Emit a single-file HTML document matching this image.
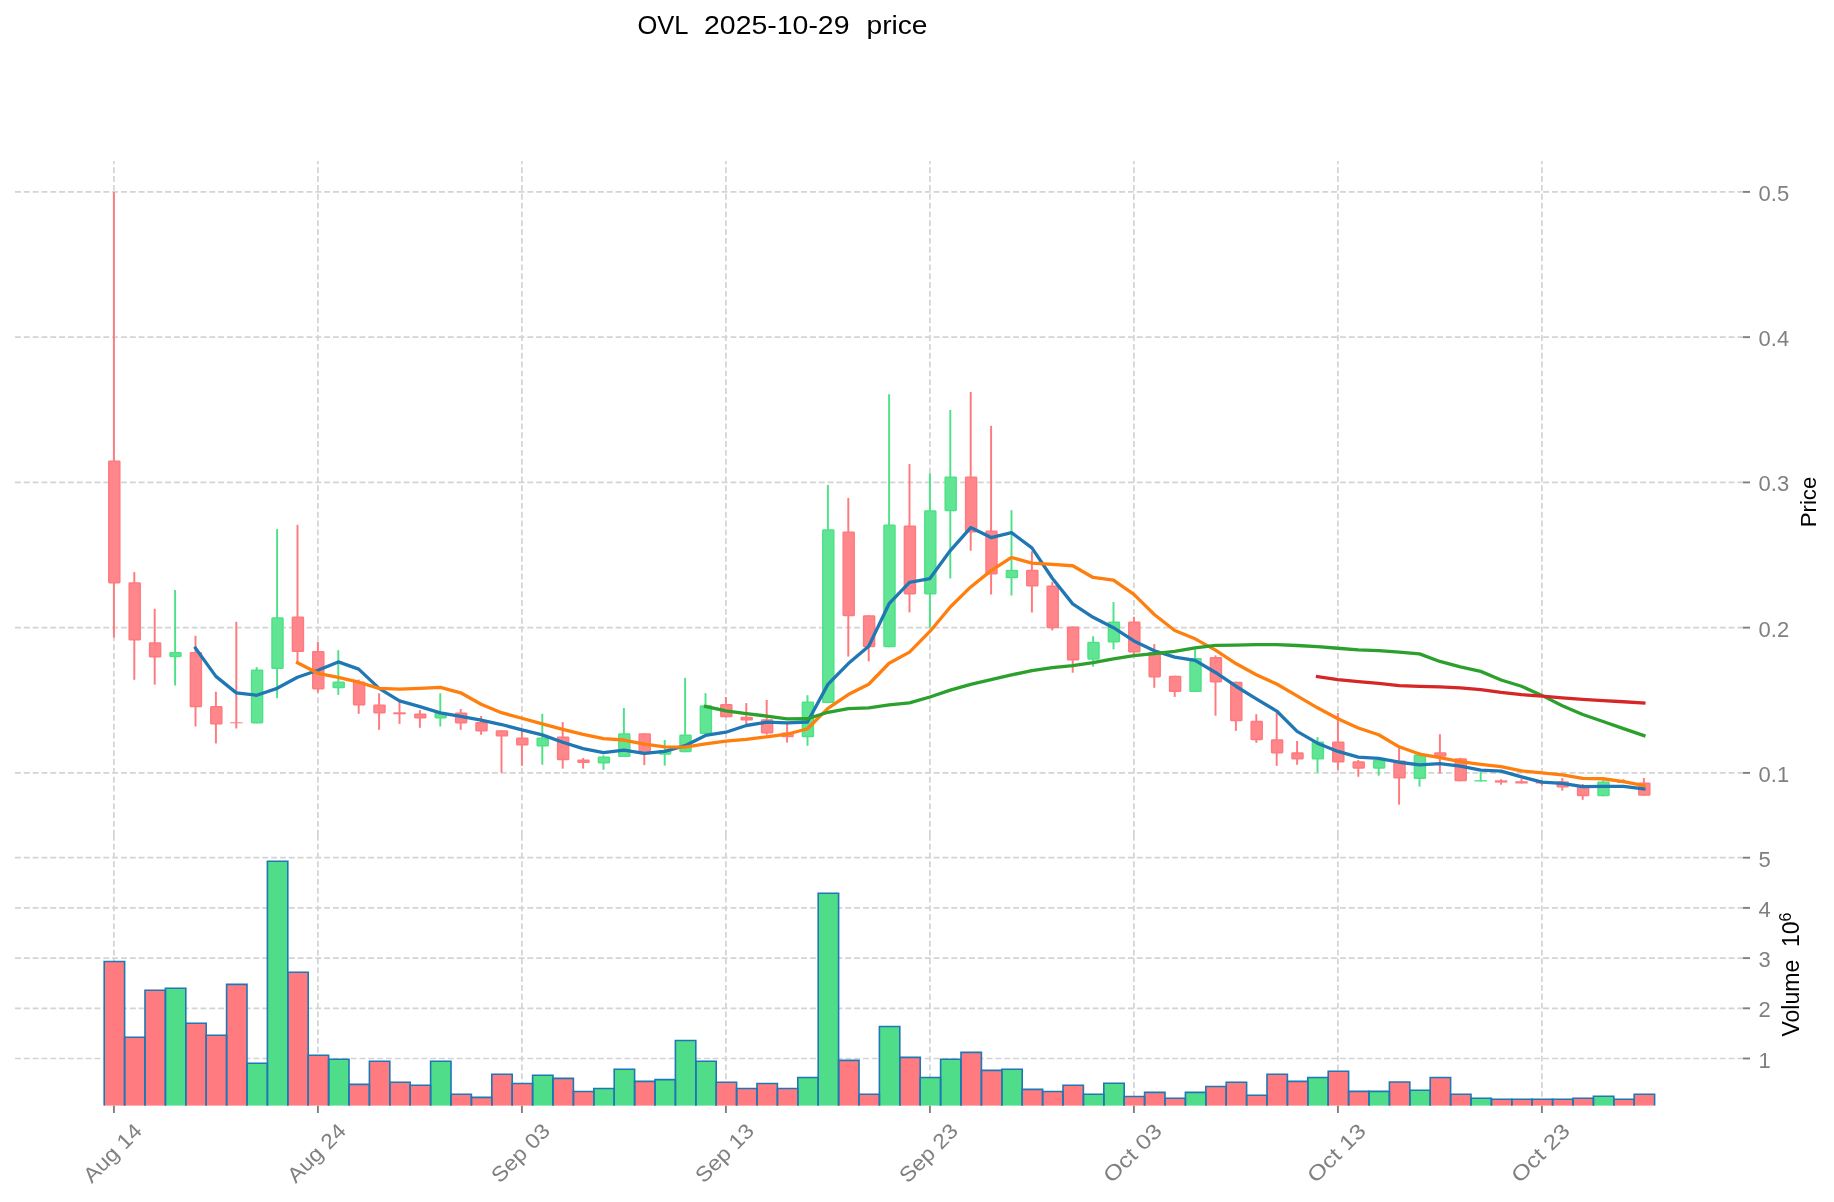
<!DOCTYPE html><html><head><meta charset="utf-8"><style>html,body{margin:0;padding:0;background:#fff;}svg{display:block;will-change:transform;}</style></head><body><svg width="1834" height="1202" viewBox="0 0 1834 1202">
<rect width="1834" height="1202" fill="#fff"/>
<g stroke="#d4d4d4" stroke-width="1.7" stroke-dasharray="5.9 2.933" fill="none"><line x1="15" y1="772.90" x2="1743" y2="772.90"/><line x1="15" y1="627.65" x2="1743" y2="627.65"/><line x1="15" y1="482.40" x2="1743" y2="482.40"/><line x1="15" y1="337.15" x2="1743" y2="337.15"/><line x1="15" y1="191.90" x2="1743" y2="191.90"/><line x1="15" y1="857.70" x2="1743" y2="857.70"/><line x1="15" y1="907.90" x2="1743" y2="907.90"/><line x1="15" y1="958.10" x2="1743" y2="958.10"/><line x1="15" y1="1008.30" x2="1743" y2="1008.30"/><line x1="15" y1="1058.50" x2="1743" y2="1058.50"/><line x1="113.90" y1="161" x2="113.90" y2="835" stroke-dashoffset="2.55"/><line x1="113.90" y1="834.8" x2="113.90" y2="1105.6"/><line x1="317.90" y1="161" x2="317.90" y2="835" stroke-dashoffset="2.55"/><line x1="317.90" y1="834.8" x2="317.90" y2="1105.6"/><line x1="521.90" y1="161" x2="521.90" y2="835" stroke-dashoffset="2.55"/><line x1="521.90" y1="834.8" x2="521.90" y2="1105.6"/><line x1="725.90" y1="161" x2="725.90" y2="835" stroke-dashoffset="2.55"/><line x1="725.90" y1="834.8" x2="725.90" y2="1105.6"/><line x1="929.90" y1="161" x2="929.90" y2="835" stroke-dashoffset="2.55"/><line x1="929.90" y1="834.8" x2="929.90" y2="1105.6"/><line x1="1133.90" y1="161" x2="1133.90" y2="835" stroke-dashoffset="2.55"/><line x1="1133.90" y1="834.8" x2="1133.90" y2="1105.6"/><line x1="1337.90" y1="161" x2="1337.90" y2="835" stroke-dashoffset="2.55"/><line x1="1337.90" y1="834.8" x2="1337.90" y2="1105.6"/><line x1="1541.90" y1="161" x2="1541.90" y2="835" stroke-dashoffset="2.55"/><line x1="1541.90" y1="834.8" x2="1541.90" y2="1105.6"/></g>
<g stroke-width="1.95"><line x1="113.90" y1="192" x2="113.90" y2="637.4" stroke="#ff7a7e"/><line x1="134.30" y1="572.1" x2="134.30" y2="679.8" stroke="#ff7a7e"/><line x1="154.70" y1="608.8" x2="154.70" y2="684.6" stroke="#ff7a7e"/><line x1="175.10" y1="589.9" x2="175.10" y2="685.5" stroke="#4ee287"/><line x1="195.50" y1="635.7" x2="195.50" y2="726.5" stroke="#ff7a7e"/><line x1="215.90" y1="691.7" x2="215.90" y2="743.4" stroke="#ff7a7e"/><line x1="236.30" y1="621.8" x2="236.30" y2="728.5" stroke="#ff7a7e"/><line x1="256.70" y1="667.1" x2="256.70" y2="723.4" stroke="#4ee287"/><line x1="277.10" y1="529.1" x2="277.10" y2="698.2" stroke="#4ee287"/><line x1="297.50" y1="524.8" x2="297.50" y2="662" stroke="#ff7a7e"/><line x1="317.90" y1="641.9" x2="317.90" y2="692.5" stroke="#ff7a7e"/><line x1="338.30" y1="650.2" x2="338.30" y2="694.9" stroke="#4ee287"/><line x1="358.70" y1="679.6" x2="358.70" y2="713.8" stroke="#ff7a7e"/><line x1="379.10" y1="693.3" x2="379.10" y2="729.8" stroke="#ff7a7e"/><line x1="399.50" y1="702.1" x2="399.50" y2="723.9" stroke="#ff7a7e"/><line x1="419.90" y1="710.1" x2="419.90" y2="727.8" stroke="#ff7a7e"/><line x1="440.30" y1="693.3" x2="440.30" y2="726.5" stroke="#4ee287"/><line x1="460.70" y1="709" x2="460.70" y2="729.8" stroke="#ff7a7e"/><line x1="481.10" y1="716" x2="481.10" y2="734.8" stroke="#ff7a7e"/><line x1="501.50" y1="730.2" x2="501.50" y2="772.7" stroke="#ff7a7e"/><line x1="521.90" y1="730.9" x2="521.90" y2="765.8" stroke="#ff7a7e"/><line x1="542.30" y1="713.8" x2="542.30" y2="764.7" stroke="#4ee287"/><line x1="562.70" y1="722.1" x2="562.70" y2="768.6" stroke="#ff7a7e"/><line x1="583.10" y1="758.1" x2="583.10" y2="768.6" stroke="#ff7a7e"/><line x1="603.50" y1="755.3" x2="603.50" y2="769.7" stroke="#4ee287"/><line x1="623.90" y1="708" x2="623.90" y2="757" stroke="#4ee287"/><line x1="644.30" y1="733.3" x2="644.30" y2="765.1" stroke="#ff7a7e"/><line x1="664.70" y1="740" x2="664.70" y2="765.6" stroke="#4ee287"/><line x1="685.10" y1="677.9" x2="685.10" y2="752.2" stroke="#4ee287"/><line x1="705.50" y1="693.1" x2="705.50" y2="734.1" stroke="#4ee287"/><line x1="725.90" y1="697" x2="725.90" y2="717.3" stroke="#ff7a7e"/><line x1="746.30" y1="703.1" x2="746.30" y2="724" stroke="#ff7a7e"/><line x1="766.70" y1="700" x2="766.70" y2="734.7" stroke="#ff7a7e"/><line x1="787.10" y1="724" x2="787.10" y2="742.6" stroke="#ff7a7e"/><line x1="807.50" y1="695.2" x2="807.50" y2="745.8" stroke="#4ee287"/><line x1="827.90" y1="485" x2="827.90" y2="703.1" stroke="#4ee287"/><line x1="848.30" y1="497.9" x2="848.30" y2="656.6" stroke="#ff7a7e"/><line x1="868.70" y1="615.2" x2="868.70" y2="661.4" stroke="#ff7a7e"/><line x1="889.10" y1="394.2" x2="889.10" y2="647.2" stroke="#4ee287"/><line x1="909.50" y1="464.1" x2="909.50" y2="612.4" stroke="#ff7a7e"/><line x1="929.90" y1="473.3" x2="929.90" y2="627.5" stroke="#4ee287"/><line x1="950.30" y1="410" x2="950.30" y2="578.5" stroke="#4ee287"/><line x1="970.70" y1="392" x2="970.70" y2="550.7" stroke="#ff7a7e"/><line x1="991.10" y1="425.8" x2="991.10" y2="594.5" stroke="#ff7a7e"/><line x1="1011.50" y1="510.2" x2="1011.50" y2="595.6" stroke="#4ee287"/><line x1="1031.90" y1="551.3" x2="1031.90" y2="612.5" stroke="#ff7a7e"/><line x1="1052.30" y1="581.8" x2="1052.30" y2="630.5" stroke="#ff7a7e"/><line x1="1072.70" y1="626.6" x2="1072.70" y2="672.7" stroke="#ff7a7e"/><line x1="1093.10" y1="636.3" x2="1093.10" y2="666.6" stroke="#4ee287"/><line x1="1113.50" y1="602.1" x2="1113.50" y2="649.3" stroke="#4ee287"/><line x1="1133.90" y1="616.8" x2="1133.90" y2="654.7" stroke="#ff7a7e"/><line x1="1154.30" y1="644.1" x2="1154.30" y2="687.8" stroke="#ff7a7e"/><line x1="1174.70" y1="675.7" x2="1174.70" y2="696.9" stroke="#ff7a7e"/><line x1="1195.10" y1="649.3" x2="1195.10" y2="692.1" stroke="#4ee287"/><line x1="1215.50" y1="655.3" x2="1215.50" y2="715.7" stroke="#ff7a7e"/><line x1="1235.90" y1="681.7" x2="1235.90" y2="730.9" stroke="#ff7a7e"/><line x1="1256.30" y1="714.2" x2="1256.30" y2="742.8" stroke="#ff7a7e"/><line x1="1276.70" y1="713" x2="1276.70" y2="765.8" stroke="#ff7a7e"/><line x1="1297.10" y1="741" x2="1297.10" y2="764.8" stroke="#ff7a7e"/><line x1="1317.50" y1="737.1" x2="1317.50" y2="772.6" stroke="#4ee287"/><line x1="1337.90" y1="713" x2="1337.90" y2="769.8" stroke="#ff7a7e"/><line x1="1358.30" y1="760" x2="1358.30" y2="776.8" stroke="#ff7a7e"/><line x1="1378.70" y1="758.9" x2="1378.70" y2="775.7" stroke="#4ee287"/><line x1="1399.10" y1="746.9" x2="1399.10" y2="804.7" stroke="#ff7a7e"/><line x1="1419.50" y1="752.3" x2="1419.50" y2="786.6" stroke="#4ee287"/><line x1="1439.90" y1="734.2" x2="1439.90" y2="773.5" stroke="#ff7a7e"/><line x1="1460.30" y1="757.8" x2="1460.30" y2="781.3" stroke="#ff7a7e"/><line x1="1480.70" y1="772.1" x2="1480.70" y2="781.5" stroke="#4ee287"/><line x1="1501.10" y1="779.2" x2="1501.10" y2="784.7" stroke="#ff7a7e"/><line x1="1521.50" y1="778.9" x2="1521.50" y2="783.5" stroke="#ff7a7e"/><line x1="1541.90" y1="780" x2="1541.90" y2="785.8" stroke="#ff7a7e"/><line x1="1562.30" y1="778" x2="1562.30" y2="790.6" stroke="#ff7a7e"/><line x1="1582.70" y1="784" x2="1582.70" y2="799.8" stroke="#ff7a7e"/><line x1="1603.10" y1="780.3" x2="1603.10" y2="796.3" stroke="#4ee287"/><line x1="1623.50" y1="779.2" x2="1623.50" y2="783" stroke="#ff7a7e"/><line x1="1643.90" y1="778" x2="1643.90" y2="795.8" stroke="#ff7a7e"/></g>
<g><rect x="108.80" y="461.15" width="11.0" height="121.50" rx="0.6" fill="#ff878b" stroke="#ff7a7e" stroke-width="1.5"/><rect x="129.20" y="583.05" width="11.0" height="56.70" rx="0.6" fill="#ff878b" stroke="#ff7a7e" stroke-width="1.5"/><rect x="149.60" y="642.95" width="11.0" height="13.80" rx="0.6" fill="#ff878b" stroke="#ff7a7e" stroke-width="1.5"/><rect x="170.00" y="652.85" width="11.0" height="3.60" rx="0.6" fill="#61e595" stroke="#4ee287" stroke-width="1.5"/><rect x="190.40" y="652.85" width="11.0" height="53.70" rx="0.6" fill="#ff878b" stroke="#ff7a7e" stroke-width="1.5"/><rect x="210.80" y="706.85" width="11.0" height="16.90" rx="0.6" fill="#ff878b" stroke="#ff7a7e" stroke-width="1.5"/><rect x="230.10" y="722.30" width="12.4" height="1.00" fill="#ff7a7e"/><rect x="251.60" y="670.15" width="11.0" height="52.50" rx="0.6" fill="#61e595" stroke="#4ee287" stroke-width="1.5"/><rect x="272.00" y="618.05" width="11.0" height="50.30" rx="0.6" fill="#61e595" stroke="#4ee287" stroke-width="1.5"/><rect x="292.40" y="617.25" width="11.0" height="34.10" rx="0.6" fill="#ff878b" stroke="#ff7a7e" stroke-width="1.5"/><rect x="312.80" y="651.75" width="11.0" height="36.90" rx="0.6" fill="#ff878b" stroke="#ff7a7e" stroke-width="1.5"/><rect x="333.20" y="682.15" width="11.0" height="5.40" rx="0.6" fill="#61e595" stroke="#4ee287" stroke-width="1.5"/><rect x="353.60" y="682.15" width="11.0" height="22.70" rx="0.6" fill="#ff878b" stroke="#ff7a7e" stroke-width="1.5"/><rect x="374.00" y="705.25" width="11.0" height="7.40" rx="0.6" fill="#ff878b" stroke="#ff7a7e" stroke-width="1.5"/><rect x="393.30" y="712.30" width="12.4" height="2.00" fill="#ff7a7e"/><rect x="414.80" y="714.15" width="11.0" height="3.50" rx="0.6" fill="#ff878b" stroke="#ff7a7e" stroke-width="1.5"/><rect x="435.20" y="713.55" width="11.0" height="4.10" rx="0.6" fill="#61e595" stroke="#4ee287" stroke-width="1.5"/><rect x="455.60" y="713.25" width="11.0" height="9.40" rx="0.6" fill="#ff878b" stroke="#ff7a7e" stroke-width="1.5"/><rect x="476.00" y="722.85" width="11.0" height="7.90" rx="0.6" fill="#ff878b" stroke="#ff7a7e" stroke-width="1.5"/><rect x="496.40" y="730.95" width="11.0" height="4.80" rx="0.6" fill="#ff878b" stroke="#ff7a7e" stroke-width="1.5"/><rect x="516.80" y="738.15" width="11.0" height="6.60" rx="0.6" fill="#ff878b" stroke="#ff7a7e" stroke-width="1.5"/><rect x="537.20" y="738.15" width="11.0" height="7.70" rx="0.6" fill="#61e595" stroke="#4ee287" stroke-width="1.5"/><rect x="557.60" y="737.25" width="11.0" height="22.30" rx="0.6" fill="#ff878b" stroke="#ff7a7e" stroke-width="1.5"/><rect x="578.00" y="760.15" width="11.0" height="2.20" rx="0.6" fill="#ff878b" stroke="#ff7a7e" stroke-width="1.5"/><rect x="598.40" y="757.15" width="11.0" height="5.70" rx="0.6" fill="#61e595" stroke="#4ee287" stroke-width="1.5"/><rect x="618.80" y="734.05" width="11.0" height="22.20" rx="0.6" fill="#61e595" stroke="#4ee287" stroke-width="1.5"/><rect x="639.20" y="734.05" width="11.0" height="19.40" rx="0.6" fill="#ff878b" stroke="#ff7a7e" stroke-width="1.5"/><rect x="659.60" y="750.75" width="11.0" height="3.20" rx="0.6" fill="#61e595" stroke="#4ee287" stroke-width="1.5"/><rect x="680.00" y="735.15" width="11.0" height="16.30" rx="0.6" fill="#61e595" stroke="#4ee287" stroke-width="1.5"/><rect x="700.40" y="706.05" width="11.0" height="27.30" rx="0.6" fill="#61e595" stroke="#4ee287" stroke-width="1.5"/><rect x="720.80" y="704.85" width="11.0" height="11.70" rx="0.6" fill="#ff878b" stroke="#ff7a7e" stroke-width="1.5"/><rect x="741.20" y="717.45" width="11.0" height="2.30" rx="0.6" fill="#ff878b" stroke="#ff7a7e" stroke-width="1.5"/><rect x="761.60" y="719.95" width="11.0" height="12.80" rx="0.6" fill="#ff878b" stroke="#ff7a7e" stroke-width="1.5"/><rect x="782.00" y="733.25" width="11.0" height="3.30" rx="0.6" fill="#ff878b" stroke="#ff7a7e" stroke-width="1.5"/><rect x="802.40" y="702.25" width="11.0" height="34.30" rx="0.6" fill="#61e595" stroke="#4ee287" stroke-width="1.5"/><rect x="822.80" y="529.95" width="11.0" height="172.40" rx="0.6" fill="#61e595" stroke="#4ee287" stroke-width="1.5"/><rect x="843.20" y="532.15" width="11.0" height="83.30" rx="0.6" fill="#ff878b" stroke="#ff7a7e" stroke-width="1.5"/><rect x="863.60" y="615.95" width="11.0" height="30.50" rx="0.6" fill="#ff878b" stroke="#ff7a7e" stroke-width="1.5"/><rect x="884.00" y="525.25" width="11.0" height="121.20" rx="0.6" fill="#61e595" stroke="#4ee287" stroke-width="1.5"/><rect x="904.40" y="526.15" width="11.0" height="67.50" rx="0.6" fill="#ff878b" stroke="#ff7a7e" stroke-width="1.5"/><rect x="924.80" y="511.05" width="11.0" height="82.60" rx="0.6" fill="#61e595" stroke="#4ee287" stroke-width="1.5"/><rect x="945.20" y="477.15" width="11.0" height="33.30" rx="0.6" fill="#61e595" stroke="#4ee287" stroke-width="1.5"/><rect x="965.60" y="477.15" width="11.0" height="54.50" rx="0.6" fill="#ff878b" stroke="#ff7a7e" stroke-width="1.5"/><rect x="986.00" y="531.35" width="11.0" height="42.40" rx="0.6" fill="#ff878b" stroke="#ff7a7e" stroke-width="1.5"/><rect x="1006.40" y="570.45" width="11.0" height="7.10" rx="0.6" fill="#61e595" stroke="#4ee287" stroke-width="1.5"/><rect x="1026.80" y="570.45" width="11.0" height="15.30" rx="0.6" fill="#ff878b" stroke="#ff7a7e" stroke-width="1.5"/><rect x="1047.20" y="586.25" width="11.0" height="41.30" rx="0.6" fill="#ff878b" stroke="#ff7a7e" stroke-width="1.5"/><rect x="1067.60" y="627.35" width="11.0" height="32.40" rx="0.6" fill="#ff878b" stroke="#ff7a7e" stroke-width="1.5"/><rect x="1088.00" y="642.45" width="11.0" height="16.50" rx="0.6" fill="#61e595" stroke="#4ee287" stroke-width="1.5"/><rect x="1108.40" y="622.35" width="11.0" height="19.30" rx="0.6" fill="#61e595" stroke="#4ee287" stroke-width="1.5"/><rect x="1128.80" y="622.35" width="11.0" height="29.40" rx="0.6" fill="#ff878b" stroke="#ff7a7e" stroke-width="1.5"/><rect x="1149.20" y="652.65" width="11.0" height="24.00" rx="0.6" fill="#ff878b" stroke="#ff7a7e" stroke-width="1.5"/><rect x="1169.60" y="676.45" width="11.0" height="14.90" rx="0.6" fill="#ff878b" stroke="#ff7a7e" stroke-width="1.5"/><rect x="1190.00" y="658.65" width="11.0" height="32.70" rx="0.6" fill="#61e595" stroke="#4ee287" stroke-width="1.5"/><rect x="1210.40" y="657.65" width="11.0" height="24.00" rx="0.6" fill="#ff878b" stroke="#ff7a7e" stroke-width="1.5"/><rect x="1230.80" y="682.45" width="11.0" height="38.10" rx="0.6" fill="#ff878b" stroke="#ff7a7e" stroke-width="1.5"/><rect x="1251.20" y="721.45" width="11.0" height="18.00" rx="0.6" fill="#ff878b" stroke="#ff7a7e" stroke-width="1.5"/><rect x="1271.60" y="739.95" width="11.0" height="12.70" rx="0.6" fill="#ff878b" stroke="#ff7a7e" stroke-width="1.5"/><rect x="1292.00" y="753.05" width="11.0" height="5.70" rx="0.6" fill="#ff878b" stroke="#ff7a7e" stroke-width="1.5"/><rect x="1312.40" y="742.15" width="11.0" height="16.60" rx="0.6" fill="#61e595" stroke="#4ee287" stroke-width="1.5"/><rect x="1332.80" y="742.15" width="11.0" height="19.70" rx="0.6" fill="#ff878b" stroke="#ff7a7e" stroke-width="1.5"/><rect x="1353.20" y="762.05" width="11.0" height="5.90" rx="0.6" fill="#ff878b" stroke="#ff7a7e" stroke-width="1.5"/><rect x="1373.60" y="760.75" width="11.0" height="7.20" rx="0.6" fill="#61e595" stroke="#4ee287" stroke-width="1.5"/><rect x="1394.00" y="761.15" width="11.0" height="16.60" rx="0.6" fill="#ff878b" stroke="#ff7a7e" stroke-width="1.5"/><rect x="1414.40" y="755.25" width="11.0" height="23.10" rx="0.6" fill="#61e595" stroke="#4ee287" stroke-width="1.5"/><rect x="1434.80" y="753.05" width="11.0" height="2.90" rx="0.6" fill="#ff878b" stroke="#ff7a7e" stroke-width="1.5"/><rect x="1455.20" y="758.95" width="11.0" height="21.60" rx="0.6" fill="#ff878b" stroke="#ff7a7e" stroke-width="1.5"/><rect x="1474.50" y="780.10" width="12.4" height="1.40" fill="#4ee287"/><rect x="1494.90" y="780.30" width="12.4" height="2.30" fill="#ff7a7e"/><rect x="1515.30" y="781.20" width="12.4" height="2.30" fill="#ff7a7e"/><rect x="1535.70" y="781.20" width="12.4" height="2.30" fill="#ff7a7e"/><rect x="1557.20" y="781.95" width="11.0" height="4.80" rx="0.6" fill="#ff878b" stroke="#ff7a7e" stroke-width="1.5"/><rect x="1577.60" y="787.15" width="11.0" height="8.40" rx="0.6" fill="#ff878b" stroke="#ff7a7e" stroke-width="1.5"/><rect x="1598.00" y="782.25" width="11.0" height="13.30" rx="0.6" fill="#61e595" stroke="#4ee287" stroke-width="1.5"/><rect x="1617.30" y="781.50" width="12.4" height="1.50" fill="#ff7a7e"/><rect x="1638.80" y="783.15" width="11.0" height="11.90" rx="0.6" fill="#ff878b" stroke="#ff7a7e" stroke-width="1.5"/></g>
<polyline points="195.50,648.16 215.90,676.38 236.30,692.90 256.70,695.28 277.10,688.32 297.50,677.28 317.90,670.26 338.30,661.92 358.70,669.16 379.10,688.38 399.50,700.82 419.90,706.62 440.30,712.90 460.70,716.46 481.10,720.08 501.50,724.52 521.90,729.94 542.30,734.86 562.70,742.24 583.10,748.56 603.50,752.54 623.90,750.10 644.30,753.46 664.70,751.40 685.10,745.66 705.50,735.44 725.90,732.24 746.30,725.50 766.70,722.20 787.10,722.78 807.50,722.02 827.90,684.40 848.30,663.54 868.70,646.28 889.10,603.72 909.50,582.30 929.90,578.52 950.30,550.56 970.70,527.60 991.10,537.60 1011.50,532.66 1031.90,547.90 1052.30,578.28 1072.70,603.90 1093.10,617.34 1113.50,627.72 1133.90,640.92 1154.30,650.74 1174.70,657.06 1195.10,660.30 1215.50,672.46 1235.90,686.22 1256.30,698.78 1276.70,711.04 1297.10,731.36 1317.50,743.16 1337.90,751.42 1358.30,757.12 1378.70,758.44 1399.10,762.24 1419.50,764.86 1439.90,763.68 1460.30,766.20 1480.70,770.22 1501.10,771.04 1521.50,776.84 1541.90,782.20 1562.30,783.44 1582.70,786.68 1603.10,786.46 1623.50,786.36 1643.90,788.82" fill="none" stroke="#1f77b4" stroke-width="3.3" stroke-linejoin="round" stroke-linecap="square"/>
<polyline points="297.50,662.72 317.90,673.32 338.30,677.41 358.70,682.22 379.10,688.35 399.50,689.05 419.90,688.44 440.30,687.41 460.70,692.81 481.10,704.23 501.50,712.67 521.90,718.28 542.30,723.88 562.70,729.35 583.10,734.32 603.50,738.53 623.90,740.02 644.30,744.16 664.70,746.82 685.10,747.11 705.50,743.99 725.90,741.17 746.30,739.48 766.70,736.80 787.10,734.22 807.50,728.73 827.90,708.32 848.30,694.52 868.70,684.24 889.10,663.25 909.50,652.16 929.90,631.46 950.30,607.05 970.70,586.94 991.10,570.66 1011.50,557.48 1031.90,563.21 1052.30,564.42 1072.70,565.75 1093.10,577.47 1113.50,580.19 1133.90,594.41 1154.30,614.51 1174.70,630.48 1195.10,638.82 1215.50,650.09 1235.90,663.57 1256.30,674.76 1276.70,684.05 1297.10,695.83 1317.50,707.81 1337.90,718.82 1358.30,727.95 1378.70,734.74 1399.10,746.80 1419.50,754.01 1439.90,757.55 1460.30,761.66 1480.70,764.33 1501.10,766.64 1521.50,770.85 1541.90,772.94 1562.30,774.82 1582.70,778.45 1603.10,778.75 1623.50,781.60 1643.90,785.51" fill="none" stroke="#ff7f0e" stroke-width="3.3" stroke-linejoin="round" stroke-linecap="square"/>
<polyline points="705.50,706.46 725.90,710.92 746.30,713.59 766.70,716.12 787.10,718.96 807.50,718.77 827.90,712.26 848.30,708.70 868.70,707.96 889.10,704.86 909.50,702.94 929.90,696.97 950.30,690.14 970.70,684.36 991.10,679.73 1011.50,674.91 1031.90,670.52 1052.30,667.70 1072.70,665.60 1093.10,662.61 1113.50,658.78 1133.90,655.68 1154.30,653.68 1174.70,651.41 1195.10,647.90 1215.50,645.43 1235.90,645.03 1256.30,644.57 1276.70,644.68 1297.10,645.52 1317.50,646.72 1337.90,648.23 1358.30,649.84 1378.70,650.72 1399.10,652.09 1419.50,653.86 1439.90,661.44 1460.30,666.95 1480.70,671.38 1501.10,679.98 1521.50,686.28 1541.90,695.39 1562.30,705.76 1582.70,714.56 1603.10,721.46 1623.50,728.57 1643.90,735.54" fill="none" stroke="#2ca02c" stroke-width="3.3" stroke-linejoin="round" stroke-linecap="square"/>
<polyline points="1317.50,676.59 1337.90,679.58 1358.30,681.71 1378.70,683.42 1399.10,685.53 1419.50,686.32 1439.90,686.85 1460.30,687.82 1480.70,689.67 1501.10,692.42 1521.50,694.61 1541.90,696.18 1562.30,697.95 1582.70,699.46 1603.10,700.60 1623.50,701.74 1643.90,703.03" fill="none" stroke="#d62728" stroke-width="3.3" stroke-linejoin="round" stroke-linecap="square"/>
<g><rect x="104.20" y="961.5" width="20.4" height="144.10" fill="#ff7b80"/><rect x="124.60" y="1037.3" width="20.4" height="68.30" fill="#ff7b80"/><rect x="145.00" y="990.3" width="20.4" height="115.30" fill="#ff7b80"/><rect x="165.40" y="988.3" width="20.4" height="117.30" fill="#4fdd8a"/><rect x="185.80" y="1023.3" width="20.4" height="82.30" fill="#ff7b80"/><rect x="206.20" y="1035.2" width="20.4" height="70.40" fill="#ff7b80"/><rect x="226.60" y="984.4" width="20.4" height="121.20" fill="#ff7b80"/><rect x="247.00" y="1063.3" width="20.4" height="42.30" fill="#4fdd8a"/><rect x="267.40" y="861.3" width="20.4" height="244.30" fill="#4fdd8a"/><rect x="287.80" y="972.3" width="20.4" height="133.30" fill="#ff7b80"/><rect x="308.20" y="1055.3" width="20.4" height="50.30" fill="#ff7b80"/><rect x="328.60" y="1059.2" width="20.4" height="46.40" fill="#4fdd8a"/><rect x="349.00" y="1084.4" width="20.4" height="21.20" fill="#ff7b80"/><rect x="369.40" y="1061.3" width="20.4" height="44.30" fill="#ff7b80"/><rect x="389.80" y="1082.3" width="20.4" height="23.30" fill="#ff7b80"/><rect x="410.20" y="1085.3" width="20.4" height="20.30" fill="#ff7b80"/><rect x="430.60" y="1061.3" width="20.4" height="44.30" fill="#4fdd8a"/><rect x="451.00" y="1094.2" width="20.4" height="11.40" fill="#ff7b80"/><rect x="471.40" y="1097.4" width="20.4" height="8.20" fill="#ff7b80"/><rect x="491.80" y="1074.3" width="20.4" height="31.30" fill="#ff7b80"/><rect x="512.20" y="1083.5" width="20.4" height="22.10" fill="#ff7b80"/><rect x="532.60" y="1075.2" width="20.4" height="30.40" fill="#4fdd8a"/><rect x="553.00" y="1078.4" width="20.4" height="27.20" fill="#ff7b80"/><rect x="573.40" y="1091.5" width="20.4" height="14.10" fill="#ff7b80"/><rect x="593.80" y="1088.5" width="20.4" height="17.10" fill="#4fdd8a"/><rect x="614.20" y="1069.3" width="20.4" height="36.30" fill="#4fdd8a"/><rect x="634.60" y="1081.4" width="20.4" height="24.20" fill="#ff7b80"/><rect x="655.00" y="1079.6" width="20.4" height="26.00" fill="#4fdd8a"/><rect x="675.40" y="1040.5" width="20.4" height="65.10" fill="#4fdd8a"/><rect x="695.80" y="1061.3" width="20.4" height="44.30" fill="#4fdd8a"/><rect x="716.20" y="1082.3" width="20.4" height="23.30" fill="#ff7b80"/><rect x="736.60" y="1088.5" width="20.4" height="17.10" fill="#ff7b80"/><rect x="757.00" y="1083.5" width="20.4" height="22.10" fill="#ff7b80"/><rect x="777.40" y="1088.5" width="20.4" height="17.10" fill="#ff7b80"/><rect x="797.80" y="1077.5" width="20.4" height="28.10" fill="#4fdd8a"/><rect x="818.20" y="893.3" width="20.4" height="212.30" fill="#4fdd8a"/><rect x="838.60" y="1060.4" width="20.4" height="45.20" fill="#ff7b80"/><rect x="859.00" y="1094.2" width="20.4" height="11.40" fill="#ff7b80"/><rect x="879.40" y="1026.5" width="20.4" height="79.10" fill="#4fdd8a"/><rect x="899.80" y="1057.4" width="20.4" height="48.20" fill="#ff7b80"/><rect x="920.20" y="1077.5" width="20.4" height="28.10" fill="#4fdd8a"/><rect x="940.60" y="1059.2" width="20.4" height="46.40" fill="#4fdd8a"/><rect x="961.00" y="1052.4" width="20.4" height="53.20" fill="#ff7b80"/><rect x="981.40" y="1070.4" width="20.4" height="35.20" fill="#ff7b80"/><rect x="1001.80" y="1069.3" width="20.4" height="36.30" fill="#4fdd8a"/><rect x="1022.20" y="1089.4" width="20.4" height="16.20" fill="#ff7b80"/><rect x="1042.60" y="1091.5" width="20.4" height="14.10" fill="#ff7b80"/><rect x="1063.00" y="1085.3" width="20.4" height="20.30" fill="#ff7b80"/><rect x="1083.40" y="1094.2" width="20.4" height="11.40" fill="#4fdd8a"/><rect x="1103.80" y="1083.3" width="20.4" height="22.30" fill="#4fdd8a"/><rect x="1124.20" y="1096.5" width="20.4" height="9.10" fill="#ff7b80"/><rect x="1144.60" y="1092.4" width="20.4" height="13.20" fill="#ff7b80"/><rect x="1165.00" y="1098.3" width="20.4" height="7.30" fill="#ff7b80"/><rect x="1185.40" y="1092.4" width="20.4" height="13.20" fill="#4fdd8a"/><rect x="1205.80" y="1086.5" width="20.4" height="19.10" fill="#ff7b80"/><rect x="1226.20" y="1082.3" width="20.4" height="23.30" fill="#ff7b80"/><rect x="1246.60" y="1095.3" width="20.4" height="10.30" fill="#ff7b80"/><rect x="1267.00" y="1074.3" width="20.4" height="31.30" fill="#ff7b80"/><rect x="1287.40" y="1081.4" width="20.4" height="24.20" fill="#ff7b80"/><rect x="1307.80" y="1077.5" width="20.4" height="28.10" fill="#4fdd8a"/><rect x="1328.20" y="1071.3" width="20.4" height="34.30" fill="#ff7b80"/><rect x="1348.60" y="1091.4" width="20.4" height="14.20" fill="#ff7b80"/><rect x="1369.00" y="1091.4" width="20.4" height="14.20" fill="#4fdd8a"/><rect x="1389.40" y="1082" width="20.4" height="23.60" fill="#ff7b80"/><rect x="1409.80" y="1090.3" width="20.4" height="15.30" fill="#4fdd8a"/><rect x="1430.20" y="1077.5" width="20.4" height="28.10" fill="#ff7b80"/><rect x="1450.60" y="1094.2" width="20.4" height="11.40" fill="#ff7b80"/><rect x="1471.00" y="1098.3" width="20.4" height="7.30" fill="#4fdd8a"/><rect x="1491.40" y="1099.2" width="20.4" height="6.40" fill="#ff7b80"/><rect x="1511.80" y="1099.2" width="20.4" height="6.40" fill="#ff7b80"/><rect x="1532.20" y="1099.2" width="20.4" height="6.40" fill="#ff7b80"/><rect x="1552.60" y="1099.2" width="20.4" height="6.40" fill="#ff7b80"/><rect x="1573.00" y="1098.3" width="20.4" height="7.30" fill="#ff7b80"/><rect x="1593.40" y="1096.2" width="20.4" height="9.40" fill="#4fdd8a"/><rect x="1613.80" y="1099.2" width="20.4" height="6.40" fill="#ff7b80"/><rect x="1634.20" y="1094.2" width="20.4" height="11.40" fill="#ff7b80"/></g>
<g fill="none" stroke="#1f77b4" stroke-width="1.6"><path d="M104.20,1105.6 V961.5 H124.60 V1105.6"/><path d="M124.60,1105.6 V1037.3 H145.00 V1105.6"/><path d="M145.00,1105.6 V990.3 H165.40 V1105.6"/><path d="M165.40,1105.6 V988.3 H185.80 V1105.6"/><path d="M185.80,1105.6 V1023.3 H206.20 V1105.6"/><path d="M206.20,1105.6 V1035.2 H226.60 V1105.6"/><path d="M226.60,1105.6 V984.4 H247.00 V1105.6"/><path d="M247.00,1105.6 V1063.3 H267.40 V1105.6"/><path d="M267.40,1105.6 V861.3 H287.80 V1105.6"/><path d="M287.80,1105.6 V972.3 H308.20 V1105.6"/><path d="M308.20,1105.6 V1055.3 H328.60 V1105.6"/><path d="M328.60,1105.6 V1059.2 H349.00 V1105.6"/><path d="M349.00,1105.6 V1084.4 H369.40 V1105.6"/><path d="M369.40,1105.6 V1061.3 H389.80 V1105.6"/><path d="M389.80,1105.6 V1082.3 H410.20 V1105.6"/><path d="M410.20,1105.6 V1085.3 H430.60 V1105.6"/><path d="M430.60,1105.6 V1061.3 H451.00 V1105.6"/><path d="M451.00,1105.6 V1094.2 H471.40 V1105.6"/><path d="M471.40,1105.6 V1097.4 H491.80 V1105.6"/><path d="M491.80,1105.6 V1074.3 H512.20 V1105.6"/><path d="M512.20,1105.6 V1083.5 H532.60 V1105.6"/><path d="M532.60,1105.6 V1075.2 H553.00 V1105.6"/><path d="M553.00,1105.6 V1078.4 H573.40 V1105.6"/><path d="M573.40,1105.6 V1091.5 H593.80 V1105.6"/><path d="M593.80,1105.6 V1088.5 H614.20 V1105.6"/><path d="M614.20,1105.6 V1069.3 H634.60 V1105.6"/><path d="M634.60,1105.6 V1081.4 H655.00 V1105.6"/><path d="M655.00,1105.6 V1079.6 H675.40 V1105.6"/><path d="M675.40,1105.6 V1040.5 H695.80 V1105.6"/><path d="M695.80,1105.6 V1061.3 H716.20 V1105.6"/><path d="M716.20,1105.6 V1082.3 H736.60 V1105.6"/><path d="M736.60,1105.6 V1088.5 H757.00 V1105.6"/><path d="M757.00,1105.6 V1083.5 H777.40 V1105.6"/><path d="M777.40,1105.6 V1088.5 H797.80 V1105.6"/><path d="M797.80,1105.6 V1077.5 H818.20 V1105.6"/><path d="M818.20,1105.6 V893.3 H838.60 V1105.6"/><path d="M838.60,1105.6 V1060.4 H859.00 V1105.6"/><path d="M859.00,1105.6 V1094.2 H879.40 V1105.6"/><path d="M879.40,1105.6 V1026.5 H899.80 V1105.6"/><path d="M899.80,1105.6 V1057.4 H920.20 V1105.6"/><path d="M920.20,1105.6 V1077.5 H940.60 V1105.6"/><path d="M940.60,1105.6 V1059.2 H961.00 V1105.6"/><path d="M961.00,1105.6 V1052.4 H981.40 V1105.6"/><path d="M981.40,1105.6 V1070.4 H1001.80 V1105.6"/><path d="M1001.80,1105.6 V1069.3 H1022.20 V1105.6"/><path d="M1022.20,1105.6 V1089.4 H1042.60 V1105.6"/><path d="M1042.60,1105.6 V1091.5 H1063.00 V1105.6"/><path d="M1063.00,1105.6 V1085.3 H1083.40 V1105.6"/><path d="M1083.40,1105.6 V1094.2 H1103.80 V1105.6"/><path d="M1103.80,1105.6 V1083.3 H1124.20 V1105.6"/><path d="M1124.20,1105.6 V1096.5 H1144.60 V1105.6"/><path d="M1144.60,1105.6 V1092.4 H1165.00 V1105.6"/><path d="M1165.00,1105.6 V1098.3 H1185.40 V1105.6"/><path d="M1185.40,1105.6 V1092.4 H1205.80 V1105.6"/><path d="M1205.80,1105.6 V1086.5 H1226.20 V1105.6"/><path d="M1226.20,1105.6 V1082.3 H1246.60 V1105.6"/><path d="M1246.60,1105.6 V1095.3 H1267.00 V1105.6"/><path d="M1267.00,1105.6 V1074.3 H1287.40 V1105.6"/><path d="M1287.40,1105.6 V1081.4 H1307.80 V1105.6"/><path d="M1307.80,1105.6 V1077.5 H1328.20 V1105.6"/><path d="M1328.20,1105.6 V1071.3 H1348.60 V1105.6"/><path d="M1348.60,1105.6 V1091.4 H1369.00 V1105.6"/><path d="M1369.00,1105.6 V1091.4 H1389.40 V1105.6"/><path d="M1389.40,1105.6 V1082 H1409.80 V1105.6"/><path d="M1409.80,1105.6 V1090.3 H1430.20 V1105.6"/><path d="M1430.20,1105.6 V1077.5 H1450.60 V1105.6"/><path d="M1450.60,1105.6 V1094.2 H1471.00 V1105.6"/><path d="M1471.00,1105.6 V1098.3 H1491.40 V1105.6"/><path d="M1491.40,1105.6 V1099.2 H1511.80 V1105.6"/><path d="M1511.80,1105.6 V1099.2 H1532.20 V1105.6"/><path d="M1532.20,1105.6 V1099.2 H1552.60 V1105.6"/><path d="M1552.60,1105.6 V1099.2 H1573.00 V1105.6"/><path d="M1573.00,1105.6 V1098.3 H1593.40 V1105.6"/><path d="M1593.40,1105.6 V1096.2 H1613.80 V1105.6"/><path d="M1613.80,1105.6 V1099.2 H1634.20 V1105.6"/><path d="M1634.20,1105.6 V1094.2 H1654.60 V1105.6"/></g>
<g stroke="#808080" stroke-width="1.9"><line x1="1743" y1="772.90" x2="1750" y2="772.90"/><line x1="1743" y1="627.65" x2="1750" y2="627.65"/><line x1="1743" y1="482.40" x2="1750" y2="482.40"/><line x1="1743" y1="337.15" x2="1750" y2="337.15"/><line x1="1743" y1="191.90" x2="1750" y2="191.90"/><line x1="1743" y1="857.70" x2="1750" y2="857.70"/><line x1="1743" y1="907.90" x2="1750" y2="907.90"/><line x1="1743" y1="958.10" x2="1750" y2="958.10"/><line x1="1743" y1="1008.30" x2="1750" y2="1008.30"/><line x1="1743" y1="1058.50" x2="1750" y2="1058.50"/><line x1="113.90" y1="1105.8" x2="113.90" y2="1113" /><line x1="317.90" y1="1105.8" x2="317.90" y2="1113" /><line x1="521.90" y1="1105.8" x2="521.90" y2="1113" /><line x1="725.90" y1="1105.8" x2="725.90" y2="1113" /><line x1="929.90" y1="1105.8" x2="929.90" y2="1113" /><line x1="1133.90" y1="1105.8" x2="1133.90" y2="1113" /><line x1="1337.90" y1="1105.8" x2="1337.90" y2="1113" /><line x1="1541.90" y1="1105.8" x2="1541.90" y2="1113" /></g>
<g font-family="Liberation Sans, sans-serif" font-size="22" fill="#808080"><text x="1758.6" y="781.90">0.1</text><text x="1758.6" y="636.65">0.2</text><text x="1758.6" y="491.40">0.3</text><text x="1758.6" y="346.15">0.4</text><text x="1758.6" y="200.90">0.5</text><text x="1758.6" y="866.70">5</text><text x="1758.6" y="916.90">4</text><text x="1758.6" y="967.10">3</text><text x="1758.6" y="1017.30">2</text><text x="1758.6" y="1067.50">1</text></g>
<g font-family="Liberation Sans, sans-serif" font-size="21" fill="#808080"><text transform="translate(112.90,1153.5) rotate(-45)" text-anchor="middle" dy="6.5" textLength="73" lengthAdjust="spacingAndGlyphs">Aug 14</text><text transform="translate(316.90,1153.5) rotate(-45)" text-anchor="middle" dy="6.5" textLength="73" lengthAdjust="spacingAndGlyphs">Aug 24</text><text transform="translate(520.90,1153.5) rotate(-45)" text-anchor="middle" dy="6.5" textLength="73" lengthAdjust="spacingAndGlyphs">Sep 03</text><text transform="translate(724.90,1153.5) rotate(-45)" text-anchor="middle" dy="6.5" textLength="73" lengthAdjust="spacingAndGlyphs">Sep 13</text><text transform="translate(928.90,1153.5) rotate(-45)" text-anchor="middle" dy="6.5" textLength="73" lengthAdjust="spacingAndGlyphs">Sep 23</text><text transform="translate(1132.90,1153.5) rotate(-45)" text-anchor="middle" dy="6.5" textLength="73" lengthAdjust="spacingAndGlyphs">Oct 03</text><text transform="translate(1336.90,1153.5) rotate(-45)" text-anchor="middle" dy="6.5" textLength="73" lengthAdjust="spacingAndGlyphs">Oct 13</text><text transform="translate(1540.90,1153.5) rotate(-45)" text-anchor="middle" dy="6.5" textLength="73" lengthAdjust="spacingAndGlyphs">Oct 23</text></g>
<text font-family="Liberation Sans, sans-serif" font-size="22.5" fill="#000" transform="translate(1816,502) rotate(-90)" text-anchor="middle" textLength="50.5" lengthAdjust="spacingAndGlyphs">Price</text>
<text font-family="Liberation Sans, sans-serif" font-size="23" fill="#000" transform="translate(1798.6,1036.5) rotate(-90)" xml:space="preserve">Volume  10<tspan dy="-8" font-size="16">6</tspan></text>
<g font-family="Liberation Sans, sans-serif" font-size="25" fill="#000"><text x="637.5" y="34" textLength="51" lengthAdjust="spacingAndGlyphs">OVL</text><text x="704" y="34" textLength="145.5" lengthAdjust="spacingAndGlyphs">2025-10-29</text><text x="866.5" y="34" textLength="61" lengthAdjust="spacingAndGlyphs">price</text></g>
</svg></body></html>
